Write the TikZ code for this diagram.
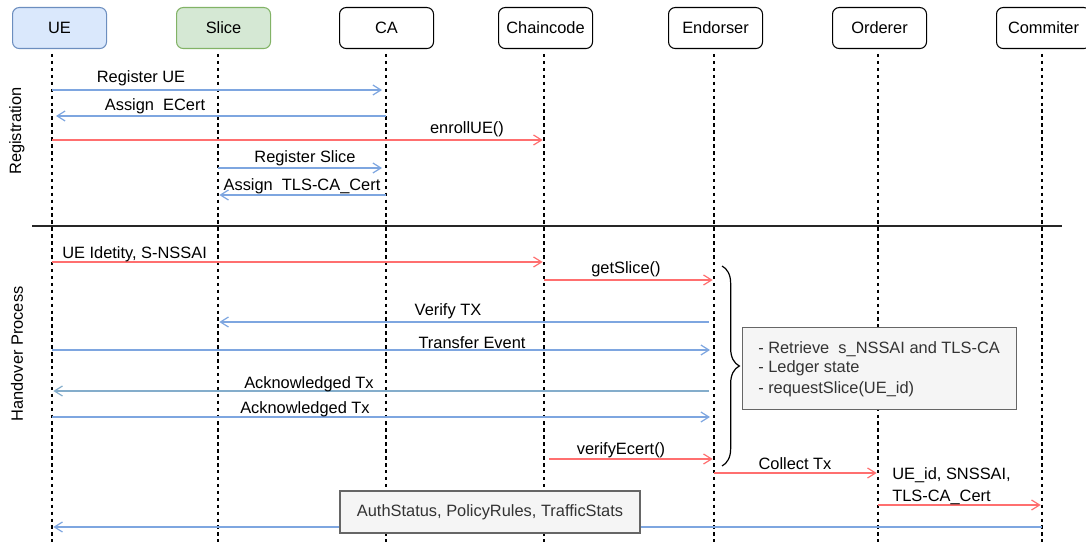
\documentclass[tikz,border=0pt]{standalone}
\usepackage{fontspec}
\setmainfont{Liberation Sans}
\usetikzlibrary{arrows.meta,decorations.pathreplacing}
\definecolor{msgblue}{HTML}{7EA6E0}
\definecolor{msgred}{HTML}{FF6F6F}
\definecolor{msgteal}{HTML}{84ADCB}
\definecolor{uefill}{HTML}{DAE8FC}
\definecolor{uedraw}{HTML}{6C8EBF}
\definecolor{slfill}{HTML}{D5E8D4}
\definecolor{sldraw}{HTML}{82B366}
\definecolor{notefill}{HTML}{F5F5F5}
\definecolor{notedraw}{HTML}{666666}
\definecolor{notetext}{HTML}{333333}
\newcommand{\lblfont}{\fontsize{12.3}{14.5}\selectfont}
\tikzset{
  txt/.style={font=\lblfont, text=black, inner sep=0pt},
  head/.style={draw=black, rounded corners=5pt, line width=0.8pt, fill=white,
    minimum width=70.5pt, minimum height=30.75pt, anchor=north west,
    font=\lblfont},
  life/.style={draw=black, line width=0.85pt, dash pattern=on 2.6pt off 2.6pt},
  msg/.style={line width=0.95pt, -{Straight Barb[length=6pt,width=7.5pt,line width=0.9pt]}},
  bmsg/.style={msg, draw=msgblue},
  rmsg/.style={msg, draw=msgred},
  tmsg/.style={msg, draw=msgteal},
  notebox/.style={draw=notedraw, fill=notefill, line width=0.8pt, inner sep=0pt},
}
\begin{document}
\begin{tikzpicture}[x=0.75pt,y=-0.75pt]
\useasboundingbox (0,0) rectangle (1086,542);

% participants
\node[head, fill=uefill, draw=uedraw] (ue) at (12,7) {UE};
\node[head, fill=slfill, draw=sldraw] (sl) at (176,7) {Slice};
\node[head] (ca) at (339,7) {CA};
\node[head] (cc) at (498,7) {Chaincode};
\node[head] (en) at (668,7) {Endorser};
\node[head] (or) at (832,7) {Orderer};
\node[head] (co) at (996,7) {Commiter};

% lifeline positions
\coordinate (uel) at (52,0);
\coordinate (sll) at (218,0);
\coordinate (cal) at (386,0);
\coordinate (ccl) at (544,0);
\coordinate (enl) at (714,0);
\coordinate (orl) at (878,0);
\coordinate (col) at (1042,0);

\foreach \l in {uel,sll,cal,ccl,enl,orl,col}
  \draw[life] (\l |- 0,54) -- (\l |- 0,542);

% phase separator and phase titles
\coordinate (sepL) at (32,226);
\coordinate (sepR) at (1062,226);
\draw[line width=0.9pt, draw=black!85] (sepL) -- (sepR);
\node[txt, rotate=90] (regt) at (17,131) {Registration};
\node[txt, rotate=90] (hot) at (17,354) {Handover Process};

% registration messages
\draw[bmsg] (uel |- 0,90) -- ([xshift=-3pt]cal |- 0,90);
\node[txt] (m1) at (141,78) {Register UE};
\draw[bmsg] (cal |- 0,116) -- ([xshift=3pt]uel |- 0,116);
\node[txt] (m2) at (155,106) {Assign\ \ ECert};
\draw[rmsg] (uel |- 0,140) -- ([xshift=-1pt]ccl |- 0,140);
\node[txt] (m3) at (467,129) {enrollUE()};
\draw[bmsg] (sll |- 0,168) -- ([xshift=-3pt]cal |- 0,168);
\node[txt] (m4) at (305,158) {Register Slice};
\draw[bmsg] (cal |- 0,195) -- ([xshift=1pt]sll |- 0,195);
\node[txt] (m5) at (302,186) {Assign\ \ TLS-CA\_Cert};

% handover messages
\draw[rmsg] (uel |- 0,262) -- ([xshift=-1pt]ccl |- 0,262);
\node[txt, anchor=west] (m6) at (62,254) {UE Idetity, S-NSSAI};
\draw[rmsg] (ccl |- 0,280) -- ([xshift=-1pt]enl |- 0,280);
\node[txt] (m7) at (626,269) {getSlice()};
\draw[bmsg] ([xshift=-4pt]enl |- 0,322) -- ([xshift=1pt]sll |- 0,322);
\node[txt] (m8) at (448,311) {Verify TX};
\draw[bmsg] (uel |- 0,350) -- ([xshift=-3pt]enl |- 0,350);
\node[txt] (m9) at (472,343) {Transfer Event};
\draw[tmsg] ([xshift=-4pt]enl |- 0,391) -- ([xshift=1pt]uel |- 0,391);
\node[txt] (m10) at (309,384) {Acknowledged Tx};
\draw[bmsg] (uel |- 0,417) -- ([xshift=-3pt]enl |- 0,417);
\node[txt] (m11) at (305,409) {Acknowledged Tx};
\draw[rmsg] ([xshift=4pt]ccl |- 0,459) -- ([xshift=-1pt]enl |- 0,459);
\node[txt] (m12) at (621,450) {verifyEcert()};
\draw[rmsg] (enl |- 0,473) -- ([xshift=-1pt]orl |- 0,473);
\node[txt] (m13) at (795,464) {Collect Tx};
\draw[rmsg] (orl |- 0,505) -- ([xshift=-1pt]col |- 0,505);
\node[txt, anchor=west, align=left] (m14) at (892,486)
  {UE\_id, SNSSAI,\\[2pt]TLS-CA\_Cert};
\draw[bmsg] (col |- 0,527) -- ([xshift=1pt]uel |- 0,527);

% note on the return message
\node[notebox, minimum width=225pt, minimum height=31.5pt] (stats) at (490,512)
  {\lblfont\color{notetext}AuthStatus, PolicyRules, TrafficStats};

% brace grouping the endorser activity
\coordinate (brT) at (722,266);
\coordinate (brB) at (722,466);
\draw[line width=0.9pt, decorate, decoration={brace, amplitude=13pt, raise=0pt}]
  (brT) -- (brB);

% endorser note
\node[notebox, minimum width=205.5pt, minimum height=61.5pt, anchor=north west] (endnote) at (742,327) {};
\node[txt, anchor=west, align=left, text=notetext] (endtxt) at (758,369)
  {- Retrieve\ \ s\_NSSAI and TLS-CA\\[0pt]- Ledger state\\[1pt]- requestSlice(UE\_id)};
\end{tikzpicture}
\end{document}
